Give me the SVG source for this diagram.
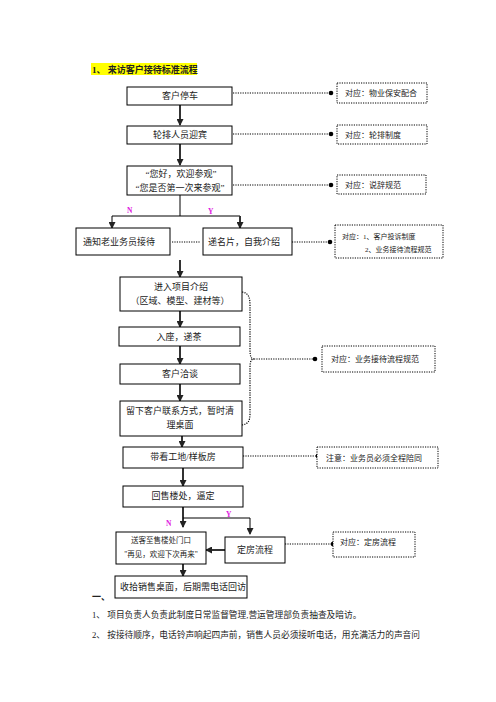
<svg xmlns="http://www.w3.org/2000/svg" width="496" height="702" viewBox="0 0 496 702">
<style>
text{font-family:"Liberation Serif","Noto Sans CJK SC",serif;fill:#222;}
.t{font-size:9px;text-anchor:middle;}
.s{font-size:8px;}
.box{fill:#fff;stroke:#000;stroke-width:1;}
.dbox{fill:#fff;stroke:#000;stroke-width:1;stroke-dasharray:1.2 1.2;}
.dot{fill:none;stroke:#000;stroke-width:1.2;stroke-dasharray:1.2 1.2;}
.arr{stroke:#333;stroke-width:2;fill:none;}
.thin{stroke:#000;stroke-width:1;fill:none;}
.yn{font-size:7.5px;font-weight:bold;fill:#e020e0;}
</style>
<defs>
<marker id="ah" markerUnits="userSpaceOnUse" markerWidth="7" markerHeight="7" refX="6" refY="3.5" orient="auto">
<path d="M0,0 L7,3.5 L0,7 z" fill="#222"/>
</marker>
</defs>
<rect width="496" height="702" fill="#fff"/>

<g id="title">
<rect x="91" y="63" width="106" height="12" fill="#ffff00"/>
<text x="92" y="73" style="font-size:9px;font-weight:bold;">1、 来访客户接待标准流程</text>
</g>

<g id="connectors">
<line class="arr" x1="180" y1="105" x2="180" y2="125" marker-end="url(#ah)"/>
<line class="arr" x1="180" y1="144" x2="180" y2="165" marker-end="url(#ah)"/>
<line class="thin" x1="180" y1="195" x2="180" y2="216"/>
<line class="thin" x1="112" y1="216" x2="240" y2="216"/>
<line class="thin" x1="112" y1="216" x2="112" y2="228" marker-end="url(#ah)"/>
<line class="arr" x1="240" y1="216" x2="240" y2="228" marker-end="url(#ah)"/>
<line class="arr" x1="180" y1="260" x2="180" y2="277" marker-end="url(#ah)"/>
<line class="arr" x1="180" y1="311" x2="180" y2="327" marker-end="url(#ah)"/>
<line class="arr" x1="180" y1="346" x2="180" y2="364" marker-end="url(#ah)"/>
<line class="arr" x1="180" y1="384" x2="180" y2="401" marker-end="url(#ah)"/>
<line class="arr" x1="182" y1="436" x2="182" y2="447" marker-end="url(#ah)"/>
<line class="arr" x1="183" y1="468" x2="183" y2="486" marker-end="url(#ah)"/>
<line class="arr" x1="183" y1="507" x2="183" y2="527" marker-end="url(#ah)"/>
<line class="thin" x1="183" y1="518" x2="250" y2="518"/>
<line class="thin" x1="250" y1="518" x2="250" y2="534" marker-end="url(#ah)"/>
<line class="arr" x1="225" y1="550" x2="206" y2="550" marker-end="url(#ah)"/>
<line class="arr" x1="183" y1="564" x2="183" y2="576" marker-end="url(#ah)"/>

<line class="dot" x1="233" y1="93" x2="330" y2="93"/>
<circle cx="331" cy="93" r="2.3"/>
<line class="dot" x1="233" y1="134" x2="330" y2="134"/>
<circle cx="331" cy="134" r="2.3"/>
<line class="dot" x1="233" y1="185" x2="330" y2="185"/>
<circle cx="331" cy="185" r="2.3"/>
<line class="dot" x1="172" y1="242" x2="200" y2="242"/>
<line class="dot" x1="292" y1="242" x2="329" y2="242"/>
<circle cx="330" cy="242" r="2.3"/>
<path class="dot" d="M242,292 C249,293 250,298 250,306 L250,350 C250,356 251,359 254,359 C251,359 250,362 250,368 L250,414 C250,421 248,424 242,425"/>
<line class="dot" x1="254" y1="359" x2="314" y2="359"/>
<circle cx="315" cy="359" r="2.3"/>
<line class="dot" x1="243" y1="456" x2="317" y2="456"/>
<circle cx="318" cy="456" r="2.3"/>
<line class="dot" x1="285" y1="544" x2="332" y2="544"/>
<circle cx="333" cy="544" r="2.3"/>
<text class="yn" x="127" y="213">N</text>
<text class="yn" x="208" y="214">Y</text>
<text class="yn" x="166" y="526">N</text>
<text class="yn" x="226" y="517">Y</text>
</g>

<g id="n1"><rect class="box" x="127" y="87" width="105" height="18"/><text class="t" x="180" y="99">客户停车</text></g>
<g id="n2"><rect class="box" x="127" y="126" width="105" height="18"/><text class="t" x="180" y="138">轮排人员迎宾</text></g>
<g id="n3"><rect class="box" x="127" y="166" width="105" height="29"/><text class="t" x="181" y="177">“您好，欢迎参观”</text><text class="t" x="180" y="191">“您是否第一次来参观”</text></g>
<g id="n4"><rect class="box" x="76" y="228" width="94" height="27"/><text class="t" x="119" y="245">通知老业务员接待</text></g>
<g id="n5"><rect class="box" x="203" y="228" width="89" height="27"/><text class="t" x="244" y="245">递名片，自我介绍</text></g>
<g id="n6"><rect class="box" x="120" y="277" width="122" height="34"/><text class="t" x="181" y="290">进入项目介绍</text><text class="t" x="180" y="304">（区域、模型、建材等）</text></g>
<g id="n7"><rect class="box" x="119" y="327" width="121" height="19"/><text class="t" x="179" y="340">入座，递茶</text></g>
<g id="n8"><rect class="box" x="120" y="364" width="120" height="20"/><text class="t" x="180" y="377">客户洽谈</text></g>
<g id="n9"><rect class="box" x="120" y="401" width="122" height="35"/><text class="t" x="180" y="414">留下客户联系方式，暂时清</text><text class="t" x="180" y="428">理桌面</text></g>
<g id="n10"><rect class="box" x="123" y="447" width="120" height="21"/><text class="t" x="183" y="460">带看工地/样板房</text></g>
<g id="n11"><rect class="box" x="123" y="486" width="120" height="21"/><text class="t" x="183" y="499">回售楼处，逼定</text></g>
<g id="n12"><rect class="box" x="116" y="532" width="90" height="32"/><text class="t" x="161" y="543" style="font-size:7.5px">送客至售楼处门口</text><text class="t" x="161" y="557" style="font-size:7.5px">"再见，欢迎下次再来"</text></g>
<g id="n13"><rect class="box" x="225" y="537" width="60" height="26"/><text class="t" x="255" y="553">定房流程</text></g>
<g id="n14"><rect class="box" x="115" y="576" width="132" height="22"/><text class="t" x="183" y="590">收拾销售桌面，后期需电话回访</text></g>

<g id="r1"><rect class="dbox" x="337" y="83" width="90" height="20"/><text class="s" x="345" y="96">对应：物业保安配合</text></g>
<g id="r2"><rect class="dbox" x="337" y="125" width="90" height="19"/><text class="s" x="345" y="138">对应：轮排制度</text></g>
<g id="r3"><rect class="dbox" x="337" y="175" width="89" height="19"/><text class="s" x="345" y="188">对应：说辞规范</text></g>
<g id="r4"><rect class="dbox" x="335" y="225" width="108" height="33"/><text class="s" x="342" y="239" style="font-size:7px">对应：1、客户投诉制度</text><text class="s" x="365" y="252" style="font-size:7px">2、业务接待流程规范</text></g>
<g id="r5"><rect class="dbox" x="322" y="346" width="113" height="26"/><text class="s" x="331" y="362">对应：业务接待流程规范</text></g>
<g id="r6"><rect class="dbox" x="317" y="447" width="121" height="21"/><text class="s" x="326" y="461">注意：业务员必须全程陪同</text></g>
<g id="r7"><rect class="dbox" x="333" y="532" width="82" height="25"/><text class="s" x="340" y="545">对应：定房流程</text></g>

<g id="body">
<text x="92" y="600" style="font-size:9px;font-weight:bold;">一、</text>
<text x="92" y="618" style="font-size:8.7px">1、 项目负责人负责此制度日常监督管理,营运管理部负责抽查及暗访。</text>
<text x="92" y="638" style="font-size:8.7px">2、 按接待顺序，电话铃声响起四声前，销售人员必须接听电话，用充满活力的声音问</text>
</g>
</svg>
